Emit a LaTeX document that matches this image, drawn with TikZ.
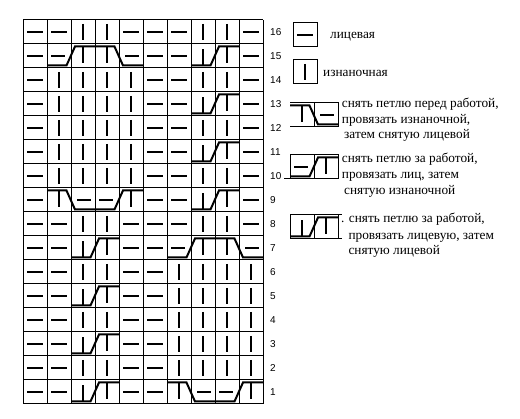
\documentclass[tikz,border=0pt]{standalone}
\usepackage{fontspec}
\setmainfont{Liberation Serif}
\newfontfamily\rowfont{Liberation Sans}

\begin{document}
\begin{tikzpicture}[x=1pt, y=-1pt,
    gridline/.style = {line width=1pt},
    stitch/.style = {line width=2pt},
    rownum/.style = {font=\rowfont\fontsize{10}{12}\selectfont, anchor=west, inner sep=0pt},
    legtext/.style = {font=\fontsize{13.3}{15}\selectfont, anchor=base west, inner sep=0pt},
    none/.pic = {},
    knit/.pic = {\draw[stitch] (4,12) -- (20,12);},
    purl/.pic = {\draw[stitch] (12,4) -- (12,20);},
    rkp/.pic = {\draw[stitch] (0,21.5) -- (19.5,21.5) -- (28,2.5) -- (48,2.5);
                \draw[stitch] (4,12) -- (18,12);
                \draw[stitch] (36,2.5) -- (36,19);},
    fpk/.pic = {\draw[stitch] (0,2.5) -- (19.5,2.5) -- (28,21.5) -- (48,21.5);
                \draw[stitch] (12,2.5) -- (12,19);
                \draw[stitch] (30,12) -- (44,12);},
    rpp/.pic = {\draw[stitch] (0,21.5) -- (19.5,21.5) -- (28,2.5) -- (48,2.5);
                \draw[stitch] (12,21.5) -- (12,5);
                \draw[stitch] (36,2.5) -- (36,19);}]
      \useasboundingbox (0,0) rectangle (520,419);

      % chart
      \foreach \i in {0,...,10}
        \draw[gridline] ({23+24*\i},20) -- ({23+24*\i},404);
      \foreach \j in {0,...,16}
        \draw[gridline] (23,{20+24*\j}) -- (263,{20+24*\j});

      \foreach \r/\cells in {
          16/{knit,knit,purl,purl,knit,knit,knit,purl,purl,knit},
          15/{knit,rkp,none,fpk,none,knit,knit,rpp,none,knit},
          14/{knit,purl,purl,purl,purl,knit,knit,purl,purl,knit},
          13/{knit,purl,purl,purl,purl,knit,knit,rpp,none,knit},
          12/{knit,purl,purl,purl,purl,knit,knit,purl,purl,knit},
          11/{knit,purl,purl,purl,purl,knit,knit,rpp,none,knit},
          10/{knit,purl,purl,purl,purl,knit,knit,purl,purl,knit},
          9/{knit,fpk,none,rkp,none,knit,knit,rpp,none,knit},
          8/{knit,knit,purl,purl,knit,knit,knit,purl,purl,knit},
          7/{knit,knit,rpp,none,knit,knit,rkp,none,fpk,none},
          6/{knit,knit,purl,purl,knit,knit,purl,purl,purl,purl},
          5/{knit,knit,rpp,none,knit,knit,purl,purl,purl,purl},
          4/{knit,knit,purl,purl,knit,knit,purl,purl,purl,purl},
          3/{knit,knit,rpp,none,knit,knit,purl,purl,purl,purl},
          2/{knit,knit,purl,purl,knit,knit,purl,purl,purl,purl},
          1/{knit,knit,rpp,none,knit,knit,fpk,none,rkp,none}}
        \foreach \t [count=\c] in \cells
          \pic at ({23+24*(\c-1)},{20+24*(16-\r)}) {\t};

      \foreach \r in {1,...,16}
        \node[rownum] (num\r) at (270,{32+24*(16-\r)}) {\r};

      % legend
      \draw[gridline] (293,23) rectangle (317,47);
      \pic at (293,23) {knit};
      \node[legtext] (lknit) at (330,39) {лицевая};

      \draw[gridline] (293,60) rectangle (317,84);
      \pic at (293,60) {purl};
      \node[legtext] (lpurl) at (323,76.5) {изнаночная};

      \draw[gridline] (290,103) -- (338,103) -- (338,127) -- (290,127) (314,103) -- (314,127);
      \pic at (290,103) {fpk};
      \node[legtext] (lfpk1) at (341.7,108) {снять петлю перед работой,};
      \node[legtext] (lfpk2) at (341.7,123.5) {провязать изнаночной,};
      \node[legtext] (lfpk3) at (344,139) {затем снятую лицевой};

      \draw[gridline] (290,155) rectangle (338,179) (314,155) -- (314,179) (284,179) -- (290,179);
      \pic at (290,155) {rkp};
      \node[legtext] (lrkp1) at (341.7,163) {снять петлю за работой,};
      \node[legtext] (lrkp2) at (341.7,179) {провязать лиц, затем};
      \node[legtext] (lrkp3) at (344,194.5) {снятую изнаночной};

      \draw[gridline] (290,215) rectangle (338,239) (314,215) -- (314,239)
                      (338,215) -- (342,215) (338,239) -- (342,239);
      \pic at (290,215) {rpp};
      \node[legtext] (lrpp1) at (341,223) {. снять петлю за работой,};
      \node[legtext] (lrpp2) at (348.3,239.5) {провязать лицевую, затем};
      \node[legtext] (lrpp3) at (348.3,255) {снятую лицевой};
\end{tikzpicture}
\end{document}
